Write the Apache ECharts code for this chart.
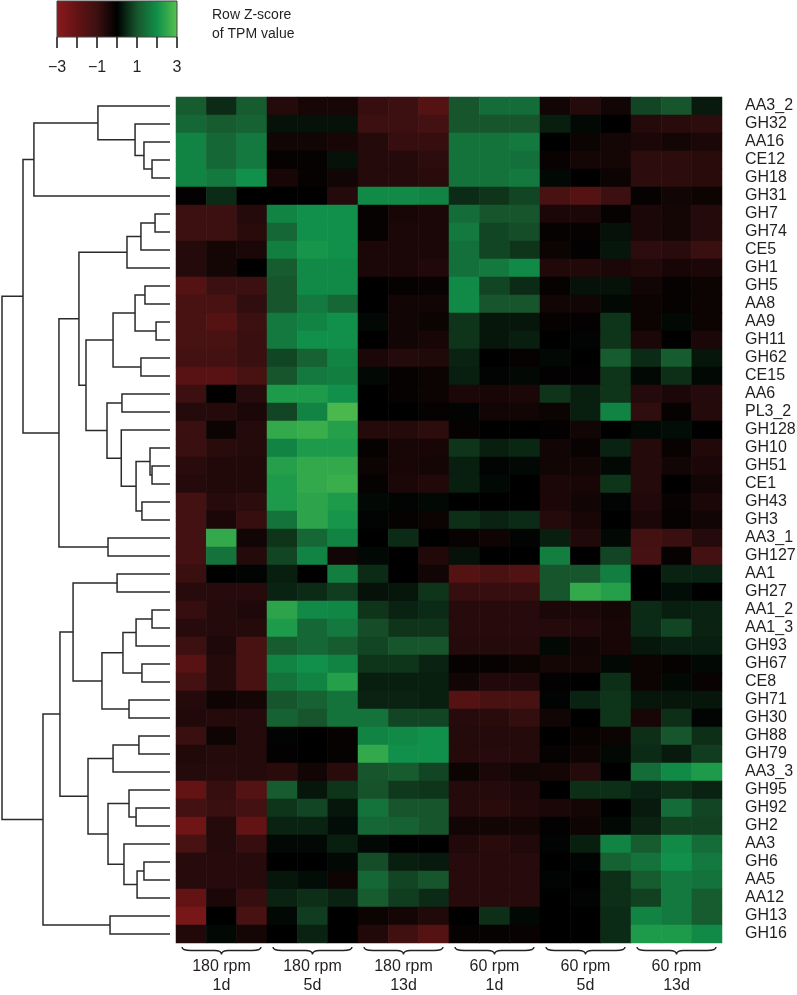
<!DOCTYPE html>
<html><head><meta charset="utf-8">
<script src="https://cdn.jsdelivr.net/npm/echarts@6/dist/echarts.min.js"></script>
<style>html,body{margin:0;padding:0;background:#fff}#c{width:797px;height:995px}</style>
</head><body><div id="c"></div>
<script>
const rowLabels = ['AA3_2','GH32','AA16','CE12','GH18','GH31','GH7','GH74','CE5','GH1','GH5','AA8','AA9','GH11','GH62','CE15','AA6','PL3_2','GH128','GH10','GH51','CE1','GH43','GH3','AA3_1','GH127','AA1','GH27','AA1_2','AA1_3','GH93','GH67','CE8','GH71','GH30','GH88','GH79','AA3_3','GH95','GH92','GH2','AA3','GH6','AA5','AA12','GH13','GH16'];
const colLabels = ['180rpm-1d-a','180rpm-1d-b','180rpm-1d-c','180rpm-5d-a','180rpm-5d-b','180rpm-5d-c','180rpm-13d-a','180rpm-13d-b','180rpm-13d-c','60rpm-1d-a','60rpm-1d-b','60rpm-1d-c','60rpm-5d-a','60rpm-5d-b','60rpm-5d-c','60rpm-13d-a','60rpm-13d-b','60rpm-13d-c'];
const groupLabels = ['180 rpm\n1d','180 rpm\n5d','180 rpm\n13d','60 rpm\n1d','60 rpm\n5d','60 rpm\n13d'];
const zValues = [
[1.1,0.5,1.1,-0.6,-0.4,-0.4,-0.9,-1.0,-1.6,1.0,1.4,1.4,-0.3,-0.6,-0.3,0.8,1.0,0.3],
[1.3,1.1,1.2,0.2,0.2,0.2,-1.0,-1.0,-1.2,1.0,1.0,1.0,0.35,0.1,0,-0.6,-0.7,-0.75],
[1.8,1.3,1.6,-0.3,-0.3,-0.4,-0.6,-0.9,-0.9,1.5,1.5,1.6,0,-0.2,-0.35,-0.45,-0.35,-0.45],
[1.8,1.3,1.6,-0.1,-0.1,0.2,-0.6,-0.6,-0.75,1.5,1.5,1.45,-0.15,-0.35,-0.35,-0.75,-0.75,-0.7],
[1.8,1.6,2.0,-0.4,-0.1,-0.3,-0.6,-0.6,-0.7,1.5,1.5,1.6,0.1,0,-0.2,-0.75,-0.75,-0.7],
[-0.05,0.5,0,0,0,-0.6,1.9,1.9,1.8,0.5,0.6,0.8,-1.3,-1.6,-1.0,-0.1,-0.3,-0.2],
[-1.0,-1.0,-0.6,1.8,2.0,2.0,-0.1,-0.4,-0.45,1.4,1.0,1.0,-0.45,-0.45,-0.1,-0.45,-0.35,-0.6],
[-1.0,-1.0,-0.7,1.3,2.0,2.0,-0.1,-0.45,-0.45,1.6,0.8,0.9,-0.1,-0.1,0.2,-0.45,-0.35,-0.6],
[-0.6,-0.35,-0.45,1.7,2.1,2.0,-0.45,-0.45,-0.45,1.45,0.8,0.6,-0.2,-0.05,0.25,-0.75,-0.7,-0.95],
[-0.6,-0.35,0,1.1,1.9,1.9,-0.45,-0.45,-0.55,1.45,1.6,1.9,-0.55,-0.55,-0.45,-0.55,-0.4,-0.45],
[-1.6,-1.0,-1.0,1.0,1.9,1.9,0,-0.1,-0.15,1.9,0.8,0.5,-0.1,0.2,0.2,-0.3,-0.1,-0.2],
[-1.3,-1.3,-0.8,1.0,1.6,1.3,0,-0.3,-0.3,1.9,1.0,1.0,-0.3,-0.3,0.1,-0.2,-0.1,-0.2],
[-1.3,-1.6,-1.0,1.6,1.8,2.0,0.1,-0.3,-0.2,0.6,0.25,0.25,-0.1,-0.05,0.6,-0.2,0.1,-0.2],
[-1.3,-1.3,-0.95,1.6,2.0,2.0,0,-0.3,-0.4,0.6,0.25,0.35,0,0.05,0.6,-0.45,0,-0.45],
[-1.2,-1.2,-0.95,0.8,1.2,1.8,-0.45,-0.6,-0.55,0.4,0,-0.1,0.1,0,1.1,0.5,1.1,0.25],
[-1.7,-1.7,-1.3,1.0,1.6,1.7,0.1,-0.1,-0.2,0.35,0.05,0.1,-0.05,-0.05,0.6,0.1,0.55,0.1],
[-1.0,0,-0.65,2.2,2.2,2.0,0,-0.1,-0.2,-0.45,-0.4,-0.45,0.6,0.35,0.6,-0.6,-0.45,-0.6],
[-0.6,-0.6,-0.45,0.8,1.8,2.8,0,0,-0.1,0.05,-0.3,-0.3,-0.2,0.35,1.8,-0.8,-0.1,-0.6],
[-0.95,-0.2,-0.6,2.5,2.6,2.3,-0.6,-0.6,-0.75,-0.1,0,0,-0.05,-0.3,0,0.1,0.15,0],
[-0.95,-0.7,-0.6,1.8,2.2,2.2,-0.1,-0.4,-0.4,0.6,0.35,0.45,-0.3,-0.15,0.4,-0.6,-0.15,-0.55],
[-0.7,-0.55,-0.55,2.3,2.5,2.5,-0.2,-0.4,-0.35,0.35,0.05,0.1,-0.3,-0.3,0.1,-0.6,-0.3,-0.45],
[-0.6,-0.55,-0.55,2.2,2.5,2.6,-0.1,-0.45,-0.55,0.35,0.1,0,-0.45,-0.4,0.6,-0.6,0,-0.3],
[-1.2,-0.65,-0.75,2.2,2.4,2.2,0.1,0.05,0.1,0,0,0,-0.45,-0.3,0.05,-0.55,-0.15,-0.45],
[-1.2,-0.45,-0.9,1.5,2.4,2.1,0.05,-0.1,-0.2,0.55,0.4,0.5,-0.6,-0.4,0,-0.45,-0.1,-0.3],
[-1.2,2.5,-0.3,0.6,1.3,1.8,0,0.5,0,-0.15,-0.25,0.05,0.35,-0.55,0.1,-1.2,-0.95,-0.6],
[-1.2,1.5,-0.6,0.8,1.8,-0.3,0.1,0,-0.55,0.2,0,0,1.7,0,0.8,-1.25,-0.1,-1.2],
[-0.95,0,0.05,0.35,0,1.7,0.5,0,-0.3,-1.6,-1.35,-1.5,1.0,1.0,1.7,0,0.4,0.4],
[-0.65,-0.65,-0.65,0.4,0.5,0.7,0.2,0.25,0.6,-0.9,-0.9,-0.9,1.0,2.5,2.3,0,0.15,0],
[-0.9,-0.6,-0.5,2.4,1.9,1.85,0.6,0.4,0.5,-0.65,-0.65,-0.65,-0.45,-0.45,-0.35,0.5,0.35,0.4],
[-0.65,-0.6,-0.6,2.2,1.3,1.6,0.9,0.6,0.6,-0.65,-0.65,-0.65,-0.6,-0.55,-0.4,0.5,0.8,0.4],
[-1.0,-0.5,-1.3,1.1,1.3,1.1,0.8,1.0,1.0,-0.6,-0.6,-0.6,0.1,-0.3,-0.4,0.25,0.35,0.35],
[-1.7,-0.6,-1.3,1.8,2.0,1.8,0.6,0.6,0.4,-0.1,-0.1,-0.2,-0.35,-0.35,0.1,-0.2,-0.1,0.1],
[-1.2,-0.6,-1.3,1.5,1.8,2.3,0.35,0.35,0.35,-0.3,-0.55,-0.55,-0.05,0,0.55,-0.2,0.1,-0.15],
[-0.6,-0.25,-0.35,1.0,1.2,1.5,0.4,0.4,0.35,-1.6,-1.3,-1.3,0.05,0.4,0.6,0.25,0.25,0.25],
[-0.55,-0.6,-0.6,1.2,1.0,1.5,1.5,0.8,0.8,-0.65,-0.7,-0.85,-0.3,0,0.6,-0.4,0.55,0.05],
[-0.95,-0.25,-0.6,0.05,0,-0.1,1.8,1.9,2.0,-0.6,-0.6,-0.6,0,-0.15,-0.2,0.55,1.0,0.55],
[-0.55,-0.6,-0.6,-0.05,0,-0.1,2.5,2.0,2.0,-0.6,-0.65,-0.6,-0.1,-0.25,0.1,0.5,0.3,0.7],
[-0.6,-0.65,-0.6,-0.7,-0.3,-0.7,1.0,1.1,0.8,-0.2,-0.45,-0.3,-0.35,-0.6,0,1.4,1.9,2.2],
[-2.0,-0.9,-1.6,1.1,0.25,0.6,0.95,0.65,0.6,-0.6,-0.6,-0.5,0,0.55,0.55,0.4,0.55,0.4],
[-1.2,-0.95,-1.2,0.6,0.8,0.25,1.5,1.0,1.0,-0.6,-0.7,-0.55,-0.45,-0.35,0,0.3,1.4,0.8],
[-2.3,-0.6,-2.0,0.4,0.4,0.15,1.3,1.2,1.0,-0.3,-0.3,-0.35,-0.05,-0.25,0.1,0.4,0.75,0.75],
[-1.3,-0.6,-0.9,0.1,0.1,0.35,0.1,0,0,-0.55,-0.7,-0.55,0.05,0.35,1.8,1.1,1.9,1.4],
[-0.65,-0.65,-0.65,0,0,0.1,0.9,0.35,0.3,-0.65,-0.65,-0.65,0,0.05,1.2,1.5,2.0,1.6],
[-0.65,-0.65,-0.65,0.25,0.15,-0.25,1.3,0.8,1.0,-0.65,-0.65,-0.65,0.05,0,0.55,1.1,1.6,1.5],
[-2.0,-0.45,-0.9,0.4,0.55,0.4,1.1,0.7,0.5,-0.65,-0.65,-0.65,0,0.05,0.55,0.75,1.6,1.1],
[-2.5,0,-1.3,0.1,0.7,0,-0.2,-0.35,-0.55,0,0.55,0.1,0,0,0.5,1.8,1.6,1.1],
[-0.55,0.1,-0.35,0,0.4,0,-0.55,-1.1,-1.6,-0.1,-0.1,-0.15,0,0,0.5,2.2,2.2,1.9]
];
// dendrogram merges: [childA, childB, height]; leaves are 0..46, merge k creates node 47+k
const merges = [
[3,4,1.07],[2,47,1.55],[1,48,2.08],[0,49,4.29],[50,5,8.10],
[6,7,0.89],[52,8,1.73],[53,9,2.56],
[10,11,1.49],[12,13,0.83],[55,56,2.08],[14,15,1.73],[57,58,3.39],
[16,17,2.86],[20,21,1.07],[19,61,1.19],[22,23,1.67],[62,63,2.02],[18,64,2.90],
[60,65,3.75],[59,66,5.0],[54,67,5.42],[24,25,3.69],[68,69,6.61],[51,70,8.75],
[26,27,3.15],[28,29,1.07],[73,30,2.02],[31,32,1.67],[74,75,2.80],[33,34,2.44],
[76,77,4.05],[72,78,5.77],[35,36,1.85],[80,37,3.39],[39,40,2.02],[38,82,2.44],
[42,43,1.55],[84,44,1.96],[41,85,2.74],[83,86,3.69],[81,87,4.88],[79,88,6.55],
[45,46,3.57],[89,90,7.56],[71,91,10.0]
];
const legendTicks = [-3,-2,-1,0,1,2,3];
const legendLabels = [-3,-1,1,3];
const legendTitle = ['Row Z-score','of TPM value'];
const colorStops = ['#8a1a1c','#641314','#3c1011','#000000','#17562c','#10904a','#58c24e'];

const FONT = '"Liberation Sans", Arial, sans-serif';
const TXT = '#231f20';
const n = rowLabels.length;

const heatData = [];
zValues.forEach((row, r) => row.forEach((v, c) => heatData.push([c, r, v])));

const nodeY = [], nodeH = [];
for (let i = 0; i < n; i++) { nodeY[i] = i + 0.5; nodeH[i] = 0; }
const links = [];
merges.forEach(([a, b, h], k) => {
  const id = n + k;
  nodeY[id] = (nodeY[a] + nodeY[b]) / 2;
  nodeH[id] = h;
  links.push({coords: [[nodeH[a], nodeY[a]], [h, nodeY[a]], [h, nodeY[b]], [nodeH[b], nodeY[b]]]});
});

// legend graphics
const LX = 57, LW = 120, LY = 1, LH = 36;
const gfx = [{
  type: 'rect', shape: {x: LX, y: LY, width: LW, height: LH},
  style: {fill: new echarts.graphic.LinearGradient(0, 0, 1, 0,
    colorStops.map((c, i) => ({offset: i / (colorStops.length - 1), color: c}))),
    stroke: '#444', lineWidth: 1}
}];
legendTicks.forEach(v => {
  const x = LX + (v + 3) / 6 * LW;
  gfx.push({type: 'line', shape: {x1: x, y1: LY + LH, x2: x, y2: LY + LH + 11}, style: {stroke: '#111', lineWidth: 1.5}});
});
legendLabels.forEach(v => {
  const x = LX + (v + 3) / 6 * LW;
  gfx.push({type: 'text', x: x, y: 68, style: {text: (v < 0 ? '\u2212' + Math.abs(v) : String(v)), font: '16px ' + FONT, fill: TXT, align: 'center', verticalAlign: 'middle'}});
});
legendTitle.forEach((t, i) => {
  gfx.push({type: 'text', x: 212, y: 15 + i * 19, style: {text: t, font: '14px ' + FONT, fill: TXT, align: 'left', verticalAlign: 'middle'}});
});

const chart = echarts.init(document.getElementById('c'), null, {renderer: 'canvas'});
chart.setOption({
  animation: false,
  backgroundColor: '#fff',
  grid: [
    {left: 176, top: 97, width: 546, height: 846, containLabel: false, outerBoundsMode: 'none'},
    {left: 2, top: 97, width: 168, height: 846, containLabel: false, outerBoundsMode: 'none'}
  ],
  xAxis: [
    {type: 'category', gridIndex: 0, data: colLabels, position: 'bottom',
      axisLine: {show: false}, axisTick: {show: false}, splitLine: {show: false},
      axisLabel: {interval: 0, margin: 14, fontSize: 16, lineHeight: 19, color: TXT, fontFamily: FONT,
        formatter: (v, i) => (i % 3 === 1 ? groupLabels[(i - 1) / 3] : '')}},
    {type: 'value', gridIndex: 1, min: 0, max: 10, inverse: true, show: false}
  ],
  yAxis: [
    {type: 'category', gridIndex: 0, data: rowLabels, inverse: true, position: 'right',
      axisLine: {show: false}, axisTick: {show: false}, splitLine: {show: false},
      axisLabel: {interval: 0, margin: 23, fontSize: 16, color: TXT, fontFamily: FONT}},
    {type: 'value', gridIndex: 1, min: 0, max: n, inverse: true, show: false}
  ],
  visualMap: {type: 'continuous', show: false, min: -3, max: 3, dimension: 2, seriesIndex: 0,
    inRange: {color: colorStops}},
  graphic: gfx,
  series: [
    {type: 'heatmap', xAxisIndex: 0, yAxisIndex: 0, data: heatData, silent: true,
      itemStyle: {borderWidth: 0}, emphasis: {disabled: true}},
    {type: 'lines', coordinateSystem: 'cartesian2d', xAxisIndex: 1, yAxisIndex: 1, polyline: true,
      data: links, silent: true, clip: false,
      lineStyle: {color: '#2a2a2a', width: 1.5, opacity: 1, curveness: 0}},
    {type: 'custom', xAxisIndex: 0, yAxisIndex: 0, silent: true, clip: false,
      data: groupLabels.map((g, i) => [i * 3, n - 1]),
      renderItem: (params, api) => {
        const c0 = api.value(0);
        const pL = api.coord([c0, n - 1]);
        const pR = api.coord([c0 + 2, n - 1]);
        const bw = api.size([1, 1]);
        const xl = pL[0] - bw[0] / 2 + 6, xr = pR[0] + bw[0] / 2 - 6;
        const y0 = pL[1] + bw[1] / 2 + 4;
        const xc = (xl + xr) / 2;
        const d = `M${xl},${y0} Q${xl},${y0 + 3.5} ${xl + 9},${y0 + 3.5} L${xc - 7},${y0 + 3.5} Q${xc},${y0 + 3.5} ${xc},${y0 + 7.5} Q${xc},${y0 + 3.5} ${xc + 7},${y0 + 3.5} L${xr - 9},${y0 + 3.5} Q${xr},${y0 + 3.5} ${xr},${y0}`;
        return {type: 'path', shape: {pathData: d}, style: {fill: 'none', stroke: '#222', lineWidth: 1.4}};
      }}
  ]
});
</script></body></html>
